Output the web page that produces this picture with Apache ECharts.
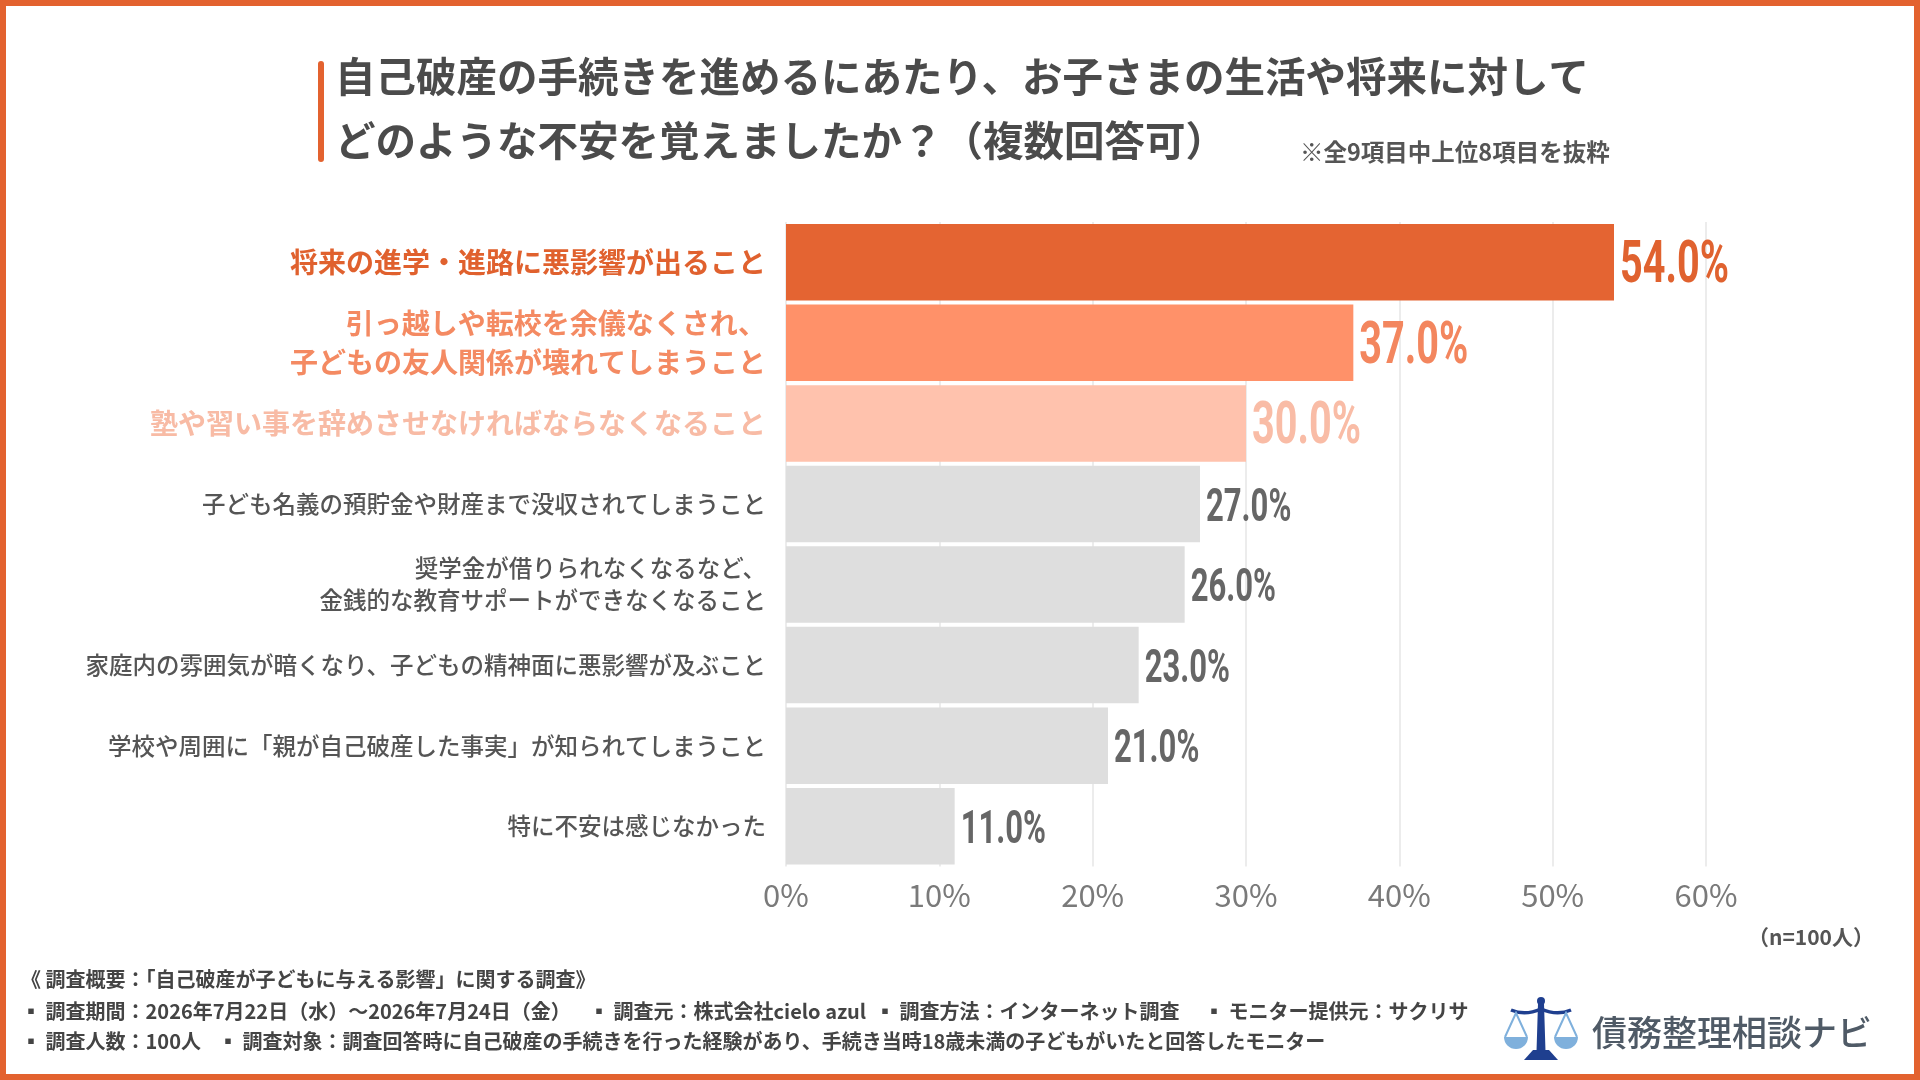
<!DOCTYPE html>
<html>
<head>
<meta charset="utf-8">
<script src="https://cdn.jsdelivr.net/npm/echarts@6/dist/echarts.min.js"></script>
<style>
html,body{margin:0;padding:0;background:#fff;}
#c{width:1920px;height:1080px;}
</style>
</head>
<body>
<div id="c"></div>
<script>
const categories = [
  "将来の進学・進路に悪影響が出ること",
  "引っ越しや転校を余儀なくされ、\n子どもの友人関係が壊れてしまうこと",
  "塾や習い事を辞めさせなければならなくなること",
  "子ども名義の預貯金や財産まで没収されてしまうこと",
  "奨学金が借りられなくなるなど、\n金銭的な教育サポートができなくなること",
  "家庭内の雰囲気が暗くなり、子どもの精神面に悪影響が及ぶこと",
  "学校や周囲に「親が自己破産した事実」が知られてしまうこと",
  "特に不安は感じなかった"
];
const values = [54.0, 37.0, 30.0, 27.0, 26.0, 23.0, 21.0, 11.0];
const xTicks = [0, 10, 20, 30, 40, 50, 60];
const titleText = "自己破産の手続きを進めるにあたり、お子さまの生活や将来に対して\nどのような不安を覚えましたか？（複数回答可）";
const noteText = "※全9項目中上位8項目を抜粋";
const sampleText = "（n=100人）";
const footerLine1 = "《 調査概要：「自己破産が子どもに与える影響」に関する調査》";
const footerLine2 = ["▪ 調査期間：2026年7月22日（水）～2026年7月24日（金）", "▪ 調査元：株式会社cielo azul", "▪ 調査方法：インターネット調査", "▪ モニター提供元：サクリサ"];
const footerLine3 = ["▪ 調査人数：100人", "▪ 調査対象：調査回答時に自己破産の手続きを行った経験があり、手続き当時18歳未満の子どもがいたと回答したモニター"];
const logoText = "債務整理相談ナビ";

const JP = "'Noto Sans CJK JP','Noto Sans',sans-serif";
const NUM = "'Roboto','Liberation Sans',sans-serif";
const ORANGE = "#e3622f";
const barColors = ["#e46432", "#ff9169", "#ffc2ad"];
const labelColors = ["#e0612e", "#f48a62", "#f8bba5"];
const valueColors = ["#e0622f", "#f3865e", "#f9bca6"];
const GRAY_BAR = "#dedede";

const richKeys = ["h1", "h2", "h3"];
function catLabel(v, i) {
  const key = i < 3 ? richKeys[i] : "g";
  return v.split("\n").map(s => "{" + key + "|" + s + "}").join("\n");
}

const seriesData = values.map((v, i) => ({
  value: v,
  itemStyle: { color: i < 3 ? barColors[i] : GRAY_BAR }
}));

const chart = echarts.init(document.getElementById("c"), null, { renderer: "canvas" });

const FF = "bold 20px " + JP;
const footerG = [];
footerG.push({ type: "text", left: 21, top: 969, style: { text: footerLine1, font: FF, fill: "#444" } });
const l2x = [21, 589, 875, 1204];
footerLine2.forEach((t, i) => footerG.push({ type: "text", left: l2x[i], top: 1001, style: { text: t, font: FF, fill: "#444" } }));
const l3x = [21, 218];
footerLine3.forEach((t, i) => footerG.push({ type: "text", left: l3x[i], top: 1031, style: { text: t, font: FF, fill: "#444" } }));

const NAVY = "#1f3f8f";
const LB = "#7fb0dc";
const logoG = [
  { type: "circle", shape: { cx: 1541, cy: 1001, r: 4 }, style: { fill: NAVY } },
  { type: "polygon", shape: { points: [[1538, 1004], [1544, 1004], [1545.5, 1051], [1536.5, 1051]] }, style: { fill: NAVY } },
  { type: "bezierCurve", shape: { x1: 1511, y1: 1010, cpx1: 1525, cpy1: 1016, x2: 1541, y2: 1009 }, style: { stroke: NAVY, lineWidth: 3.5, fill: null } },
  { type: "bezierCurve", shape: { x1: 1541, y1: 1009, cpx1: 1557, cpy1: 1016, x2: 1571, y2: 1010 }, style: { stroke: NAVY, lineWidth: 3.5, fill: null } },
  { type: "polyline", shape: { points: [[1505, 1037], [1516, 1013], [1527, 1037]] }, style: { stroke: LB, lineWidth: 2, fill: null } },
  { type: "polyline", shape: { points: [[1555, 1037], [1566, 1013], [1577, 1037]] }, style: { stroke: LB, lineWidth: 2, fill: null } },
  { type: "sector", shape: { cx: 1516, cy: 1037, r: 12, r0: 0, startAngle: 0, endAngle: Math.PI }, style: { fill: LB } },
  { type: "sector", shape: { cx: 1566, cy: 1037, r: 12, r0: 0, startAngle: 0, endAngle: Math.PI }, style: { fill: LB } },
  { type: "polygon", shape: { points: [[1533, 1050], [1549, 1050], [1558, 1060], [1524, 1060]] }, style: { fill: NAVY } },
  { type: "text", left: 1592, top: 1015, style: { text: logoText, font: "500 35px " + JP, fill: "#4f5a66" } }
];

const option = {
  backgroundColor: "#ffffff",
  animation: false,
  title: {
    text: titleText,
    left: 330,
    top: 40,
    textStyle: { fontFamily: JP, fontSize: 40.5, fontWeight: "bold", color: "#4b4b4b", lineHeight: 64 }
  },
  grid: { left: 786, right: 214, top: 222, bottom: 213.5, containLabel: false },
  xAxis: {
    type: "value",
    min: xTicks[0],
    max: xTicks[xTicks.length - 1],
    interval: xTicks[1] - xTicks[0],
    axisLine: { show: false },
    axisTick: { show: false },
    splitLine: { show: true, lineStyle: { color: "#e6e6e6", width: 1.5 } },
    axisLabel: { formatter: "{value}%", fontFamily: JP, fontSize: 31, color: "#7a7a7a", margin: 13 }
  },
  yAxis: {
    type: "category",
    inverse: true,
    data: categories,
    axisLine: { show: false },
    axisTick: { show: false },
    axisLabel: {
      margin: 20,
      formatter: catLabel,
      rich: {
        h1: { fontFamily: JP, fontSize: 28, fontWeight: "bold", color: labelColors[0], lineHeight: 39 },
        h2: { fontFamily: JP, fontSize: 28, fontWeight: "bold", color: labelColors[1], lineHeight: 39 },
        h3: { fontFamily: JP, fontSize: 28, fontWeight: "bold", color: labelColors[2], lineHeight: 39 },
        g: { fontFamily: JP, fontSize: 23.5, fontWeight: 500, color: "#555", lineHeight: 32 }
      }
    }
  },
  series: [{
    type: "bar",
    data: seriesData,
    barCategoryGap: "5%"
  }, {
    type: "custom",
    data: values.map((v, i) => [v, i]),
    encode: { x: 0, y: 1 },
    z: 10,
    renderItem: function (params, api) {
      const v = api.value(0);
      const i = params.dataIndex;
      const p = api.coord([v, i]);
      const big = i < 3;
      return {
        type: "text",
        x: p[0] + 6,
        y: p[1] + 5,
        scaleX: 0.66,
        style: {
          text: v.toFixed(1) + "%",
          font: (big ? "bold 60px " : "bold 47px ") + NUM,
          fill: big ? valueColors[i] : "#666",
          align: "left",
          verticalAlign: "middle"
        }
      };
    }
  }],
  graphic: [
    { type: "rect", shape: { x: 3, y: 3, width: 1914, height: 1074 }, style: { fill: null, stroke: ORANGE, lineWidth: 6 }, z: 100 },
    { type: "rect", shape: { x: 318, y: 61, width: 6, height: 101, r: 3 }, style: { fill: ORANGE } },
    { type: "text", left: 1300, top: 140, style: { text: noteText, font: "bold 23.5px " + JP, fill: "#555" } },
    { type: "text", right: 46, top: 927, style: { text: sampleText, font: "bold 21px " + JP, fill: "#555" } }
  ].concat(footerG, logoG)
};
chart.setOption(option);
</script>
</body>
</html>
